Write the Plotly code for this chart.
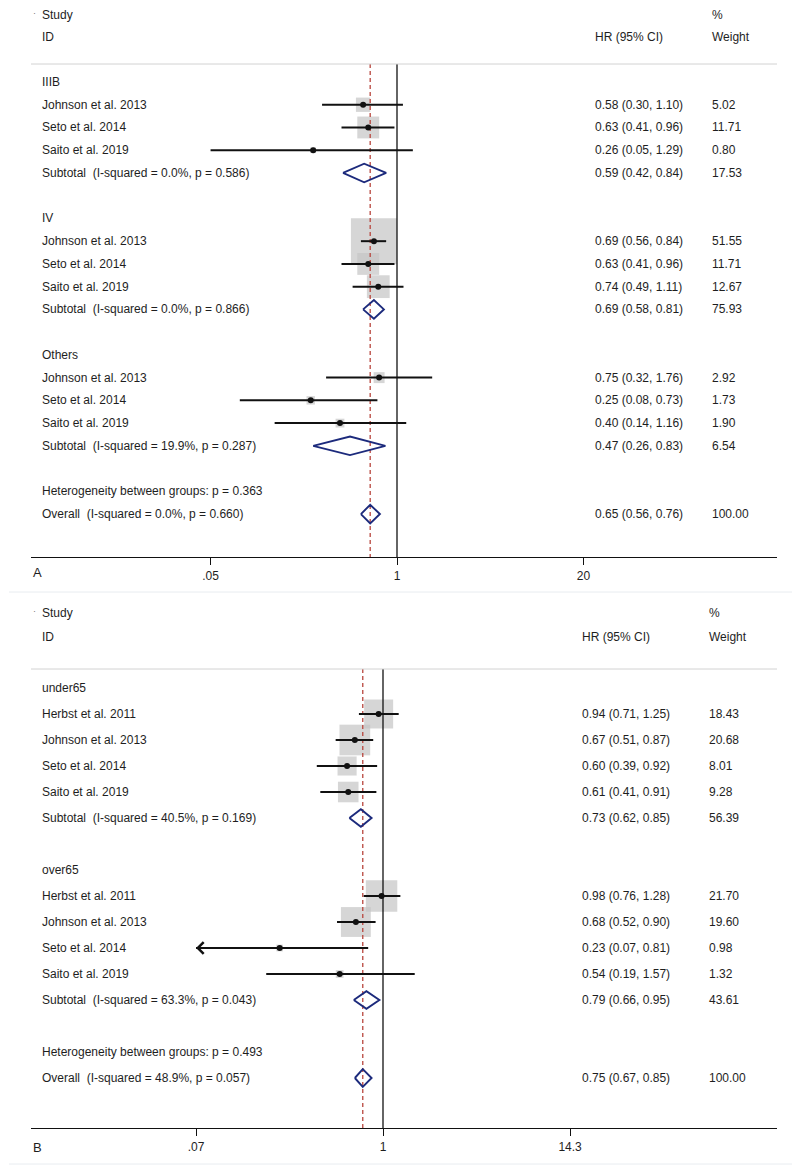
import numpy as np
import plotly.graph_objects as go

W, H = 800, 1166
OFF = 8  # page body margin: reference pixel p sits at figure pixel p - OFF
FONT = "Liberation Sans, Arial, sans-serif"
INK = "#1e1e1e"

# ---- panel A : by stage ----
groups_a = ["IIIB", "IV", "Others"]
studies_a = [["Johnson et al. 2013", "Seto et al. 2014", "Saito et al. 2019"],
             ["Johnson et al. 2013", "Seto et al. 2014", "Saito et al. 2019"],
             ["Johnson et al. 2013", "Seto et al. 2014", "Saito et al. 2019"]]
hr_a = [[0.58, 0.63, 0.26], [0.69, 0.63, 0.74], [0.75, 0.25, 0.40]]
lo_a = [[0.30, 0.41, 0.05], [0.56, 0.41, 0.49], [0.32, 0.08, 0.14]]
hi_a = [[1.10, 0.96, 1.29], [0.84, 0.96, 1.11], [1.76, 0.73, 1.16]]
wt_a = [[5.02, 11.71, 0.80], [51.55, 11.71, 12.67], [2.92, 1.73, 1.90]]
cut_a = [[False, False, False], [False, False, False], [False, False, False]]
sub_hr_a = [0.59, 0.69, 0.47]
sub_lo_a = [0.42, 0.58, 0.26]
sub_hi_a = [0.84, 0.81, 0.83]
sub_wt_a = [17.53, 75.93, 6.54]
sub_i2_a = ["0.0%", "0.0%", "19.9%"]
sub_p_a = ["0.586", "0.866", "0.287"]
het_p_a = "0.363"
overall_a = [0.65, 0.56, 0.76, 100.00]
overall_stats_a = ["0.0%", "0.660"]
ticks_a = [0.05, 1, 20]
ticktext_a = [".05", "1", "20"]

# ---- panel B : by age ----
groups_b = ["under65", "over65"]
studies_b = [["Herbst et al. 2011", "Johnson et al. 2013", "Seto et al. 2014", "Saito et al. 2019"],
             ["Herbst et al. 2011", "Johnson et al. 2013", "Seto et al. 2014", "Saito et al. 2019"]]
hr_b = [[0.94, 0.67, 0.60, 0.61], [0.98, 0.68, 0.23, 0.54]]
lo_b = [[0.71, 0.51, 0.39, 0.41], [0.76, 0.52, 0.07, 0.19]]
hi_b = [[1.25, 0.87, 0.92, 0.91], [1.28, 0.90, 0.81, 1.57]]
wt_b = [[18.43, 20.68, 8.01, 9.28], [21.70, 19.60, 0.98, 1.32]]
cut_b = [[False, False, False, False], [False, False, True, False]]
sub_hr_b = [0.73, 0.79]
sub_lo_b = [0.62, 0.66]
sub_hi_b = [0.85, 0.95]
sub_wt_b = [56.39, 43.61]
sub_i2_b = ["40.5%", "63.3%"]
sub_p_b = ["0.169", "0.043"]
het_p_b = "0.493"
overall_b = [0.75, 0.67, 0.85, 100.00]
overall_stats_b = ["48.9%", "0.057"]
ticks_b = [0.07, 1, 14.3]
ticktext_b = [".07", "1", "14.3"]


def px_x(p):
    return (p - OFF) / W


def px_y(p):
    return 1 - (p - OFF) / H


def fmt_ci(h, l, u):
    return f"{h:.2f} ({l:.2f}, {u:.2f})"


def add_panel(fig, n, letter, groups, studies, hr, lo, hi, wt, cut,
              s_hr, s_lo, s_hi, s_wt, s_i2, s_p, het_p, ov, ov_stats,
              ticks, ticktext, geo):
    sfx = "" if n == 1 else str(n)
    xr, yr = "x" + sfx, "y" + sfx
    y_of = lambda i: geo["row0"] + i * geo["step"]
    notes = []

    def txt(xpx, y, s, size=12, color=INK):
        notes.append(dict(x=px_x(xpx), xref="paper", y=y, yref=yr, text=s,
                          showarrow=False, xanchor="left", yanchor="middle",
                          font=dict(family=FONT, size=size, color=color)))

    # headers
    txt(40, geo["head"][0], "Study")
    txt(40, geo["head"][1], "ID")
    txt(geo["hr_x"], geo["head"][1], "HR (95% CI)")
    txt(geo["wt_x"], geo["head"][0], "%")
    txt(geo["wt_x"], geo["head"][1], "Weight")
    txt(31, geo["head"][0] - 2, "·", size=9, color="#777")

    bx, by, bs, cx, cy, dx, dy = [], [], [], [], [], [], []
    arrows = []
    i = 0
    for g, grp in enumerate(groups):
        txt(40, y_of(i), grp)
        i += 1
        for k, name in enumerate(studies[g]):
            y = y_of(i)
            txt(40, y, name)
            txt(geo["hr_x"], y, fmt_ci(hr[g][k], lo[g][k], hi[g][k]))
            txt(geo["wt_x"], y, f"{wt[g][k]:.2f}")
            bx.append(hr[g][k]); by.append(y)
            bs.append(geo["box_k"] * np.sqrt(wt[g][k]))
            cx += [lo[g][k], hi[g][k], None]; cy += [y, y, None]
            if cut[g][k]:
                arrows.append((lo[g][k], y))
            i += 1
        y = y_of(i)
        txt(40, y, f"Subtotal  (I-squared = {s_i2[g]}, p = {s_p[g]})")
        txt(geo["hr_x"], y, fmt_ci(s_hr[g], s_lo[g], s_hi[g]))
        txt(geo["wt_x"], y, f"{s_wt[g]:.2f}")
        h = geo["dia_h"]
        dx += [s_lo[g], s_hr[g], s_hi[g], s_hr[g], s_lo[g], None]
        dy += [y, y - h, y, y + h, y, None]
        i += 2
    txt(40, y_of(i), f"Heterogeneity between groups: p = {het_p}")
    i += 1
    y = y_of(i)
    txt(40, y, f"Overall  (I-squared = {ov_stats[0]}, p = {ov_stats[1]})")
    txt(geo["hr_x"], y, fmt_ci(ov[0], ov[1], ov[2]))
    txt(geo["wt_x"], y, f"{ov[3]:.2f}")
    h = geo["dia_h"]
    dx += [ov[1], ov[0], ov[2], ov[0], ov[1], None]
    dy += [y, y - h, y, y + h, y, None]

    top_line, bottom = geo["sep"], geo["bottom"]
    common = dict(xaxis=xr, yaxis=yr, showlegend=False, hoverinfo="skip")
    fig.add_trace(go.Scatter(x=bx, y=by, mode="markers",
                             marker=dict(symbol="square", size=bs, color="#c4c4c4",
                                         line=dict(width=0)), **common))
    fig.add_trace(go.Scatter(x=[1, 1], y=[top_line, bottom], mode="lines",
                             line=dict(color="#111", width=1.3), **common))
    fig.add_trace(go.Scatter(x=[ov[0], ov[0]], y=[top_line, bottom], mode="lines",
                             line=dict(color="#b8453d", width=1.3, dash="4px,3px"), **common))
    fig.add_trace(go.Scatter(x=cx, y=cy, mode="lines",
                             line=dict(color="#111", width=2), **common))
    fig.add_trace(go.Scatter(x=bx, y=by, mode="markers",
                             marker=dict(symbol="circle", size=6, color="#111"), **common))
    fig.add_trace(go.Scatter(x=dx, y=dy, mode="lines",
                             line=dict(color="#1c2a7c", width=1.9), **common))

    for ax_lo, ay in arrows:
        notes.append(dict(x=np.log10(ax_lo), y=ay, xref=xr, yref=yr, ax=14, ay=0,
                          showarrow=True, arrowhead=4, arrowsize=1.5, arrowwidth=1.5,
                          arrowcolor="#111", text=""))

    notes.append(dict(x=px_x(31), xref="paper", y=px_y(geo["letter_y"]), yref="paper",
                      text=letter, showarrow=False, xanchor="left", yanchor="middle",
                      font=dict(family=FONT, size=13, color=INK)))
    for a in notes:
        fig.add_annotation(**a)

    fig.add_shape(type="line", xref="paper", yref=yr, x0=px_x(31), x1=px_x(777),
                  y0=top_line, y1=top_line, line=dict(color="#d2d2d2", width=1))
    # faint frame edges of the scanned panel
    fig.add_shape(type="line", xref="paper", yref="paper", x0=px_x(9), x1=px_x(795),
                  y0=px_y(geo["frame"][1]), y1=px_y(geo["frame"][1]),
                  line=dict(color="#e8ecf0", width=1))
    fig.add_shape(type="line", xref="paper", yref="paper", x0=px_x(795), x1=px_x(795),
                  y0=px_y(geo["frame"][1]), y1=px_y(geo["frame"][0]),
                  line=dict(color="#e8ecf0", width=1))

    left = (31 - geo["one_px"]) / geo["ppd"]
    right = (777 - geo["one_px"]) / geo["ppd"]
    fig.update_layout(**{
        "xaxis" + sfx: dict(type="log", range=[left, right], domain=[px_x(31), px_x(777)],
                            anchor=yr, showline=True, linecolor="#111", linewidth=1.3,
                            ticks="outside", ticklen=7, tickwidth=1.3, tickcolor="#111",
                            tickvals=ticks, ticktext=ticktext, showgrid=False,
                            zeroline=False, tickfont=dict(family=FONT, size=12, color=INK)),
        "yaxis" + sfx: dict(range=[geo["bottom"], geo["top"]], anchor=xr,
                            domain=[px_y(geo["bottom"]), px_y(geo["top"])],
                            visible=False, showgrid=False, zeroline=False),
    })


fig = go.Figure()
add_panel(fig, 1, "A", groups_a, studies_a, hr_a, lo_a, hi_a, wt_a, cut_a,
          sub_hr_a, sub_lo_a, sub_hi_a, sub_wt_a, sub_i2_a, sub_p_a, het_p_a,
          overall_a, overall_stats_a, ticks_a, ticktext_a,
          dict(top=10, bottom=557, row0=82, step=22.74, head=(15, 37), sep=64,
               one_px=397, ppd=143.3, hr_x=593, wt_x=710, box_k=6.4, dia_h=9.3,
               letter_y=572, frame=(9, 592)))
add_panel(fig, 2, "B", groups_b, studies_b, hr_b, lo_b, hi_b, wt_b, cut_b,
          sub_hr_b, sub_lo_b, sub_hi_b, sub_wt_b, sub_i2_b, sub_p_b, het_p_b,
          overall_b, overall_stats_b, ticks_b, ticktext_b,
          dict(top=600, bottom=1128, row0=688, step=26.0, head=(613, 637), sep=669,
               one_px=383, ppd=161.9, hr_x=580, wt_x=707, box_k=6.75, dia_h=8.8,
               letter_y=1147, frame=(596, 1164)))

fig.update_layout(width=W, height=H, margin=dict(l=0, r=0, t=0, b=0),
                  paper_bgcolor="white", plot_bgcolor="white",
                  font=dict(family=FONT, size=12, color=INK))
fig.write_html("out.html")
